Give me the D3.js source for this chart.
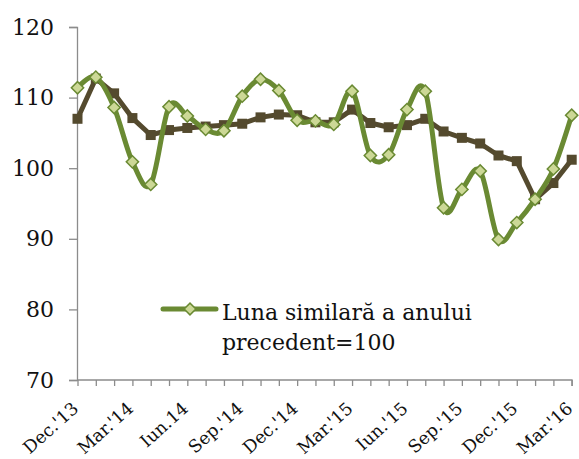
<!DOCTYPE html>
<html><head><meta charset="utf-8">
<script src="https://cdn.jsdelivr.net/npm/d3@7"></script>
<style>body{margin:0;background:#fff}svg{display:block}</style>
</head><body>
<svg id="c" width="579" height="459"></svg>
<script>
const months = ["Dec.'13","Jan.'14","Feb.'14","Mar.'14","Apr.'14","May.'14","Iun.14","Jul.'14","Aug.'14","Sep.'14","Oct.'14","Nov.'14","Dec.'14","Jan.'15","Feb.'15","Mar.'15","Apr.'15","May.'15","Iun.'15","Jul.'15","Aug.'15","Sep.'15","Oct.'15","Nov.'15","Dec.'15","Jan.'16","Feb.'16","Mar.'16"];
const tickLabelIdx = [0,3,6,9,12,15,18,21,24,27];
const lunaSimilara = [111.4,112.9,108.6,100.9,97.7,108.7,107.4,105.5,105.3,110.2,112.6,111.0,106.8,106.7,106.2,110.9,101.8,101.9,108.3,110.9,94.4,97.0,99.6,89.9,92.3,95.6,99.9,107.5];
const media = [107.0,112.7,110.6,107.1,104.7,105.4,105.7,105.9,106.1,106.3,107.2,107.6,107.5,106.5,106.5,108.3,106.4,105.8,106.1,107.0,105.2,104.3,103.5,101.8,101.0,95.6,97.9,101.2];
const yTicks = [70,80,90,100,110,120];
const legendLines = ["Luna similară a anului","precedent=100"];

const svg = d3.select("#c");
const x = d3.scalePoint().domain(months).range([77.5,571.7]);
const y = d3.scaleLinear().domain([70,120]).range([380,27]);
const font = "'DejaVu Serif', serif";
const green = "#6a8a33", dia = "#ccd896", brown = "#544a2e", axisC = "#8c8c8c";

// y axis
const ya = svg.append("g").attr("transform","translate(77,0)")
  .call(d3.axisLeft(y).tickValues(yTicks).tickSize(8).tickPadding(15));
ya.select(".domain").attr("stroke",axisC).attr("stroke-width",1.3);
ya.selectAll(".tick line").attr("stroke",axisC).attr("stroke-width",1.3);
ya.selectAll(".tick text").attr("font-family",font).attr("font-size",22).attr("fill","#111");

// x axis
const xa = svg.append("g").attr("transform","translate(0,380)")
  .call(d3.axisBottom(x).tickSize(6).tickFormat(""));
xa.select(".domain").attr("stroke",axisC).attr("stroke-width",1.3).attr("d","M77,0V0H572V6");
xa.selectAll(".tick line").attr("stroke",axisC).attr("stroke-width",1.3);
svg.append("g").selectAll("text").data(tickLabelIdx).join("text")
  .attr("transform",d=>`translate(${x(months[d])+2},410) rotate(-42)`)
  .attr("text-anchor","end").attr("font-family",font).attr("font-size",17.5).attr("fill","#111")
  .text(d=>months[d]);

// brown series
const lineB = d3.line().x((d,i)=>x(months[i])).y(d=>y(d));
svg.append("path").datum(media).attr("d",lineB).attr("fill","none").attr("stroke",brown).attr("stroke-width",5).attr("stroke-linejoin","round");
svg.append("g").selectAll("rect").data(media).join("rect")
  .attr("x",(d,i)=>x(months[i])-5).attr("y",d=>y(d)-5).attr("width",10).attr("height",10).attr("fill",brown);

// green series
const lineG = d3.line().x((d,i)=>x(months[i])).y(d=>y(d)).curve(d3.curveCatmullRom.alpha(0));
svg.append("path").datum(lunaSimilara).attr("d",lineG).attr("fill","none").attr("stroke",green).attr("stroke-width",5).attr("stroke-linejoin","round");
svg.append("g").selectAll("path").data(lunaSimilara).join("path")
  .attr("transform",(d,i)=>`translate(${x(months[i])},${y(d)}) rotate(45)`)
  .attr("d",d3.symbol().type(d3.symbolSquare).size(75)())
  .attr("fill",dia).attr("stroke",green).attr("stroke-width",1.5);

// legend
const lg = svg.append("g");
lg.append("line").attr("x1",163).attr("x2",216).attr("y1",309).attr("y2",309).attr("stroke",green).attr("stroke-width",5).attr("stroke-linecap","round");
lg.append("path").attr("transform","translate(190,309) rotate(45)").attr("d",d3.symbol().type(d3.symbolSquare).size(70)())
  .attr("fill",dia).attr("stroke",green).attr("stroke-width",1.5);
lg.selectAll("text").data(legendLines).join("text")
  .attr("x",222).attr("y",(d,i)=>320+i*30).attr("font-family",font).attr("font-size",22).attr("fill","#111").text(d=>d);
</script>
</body></html>
